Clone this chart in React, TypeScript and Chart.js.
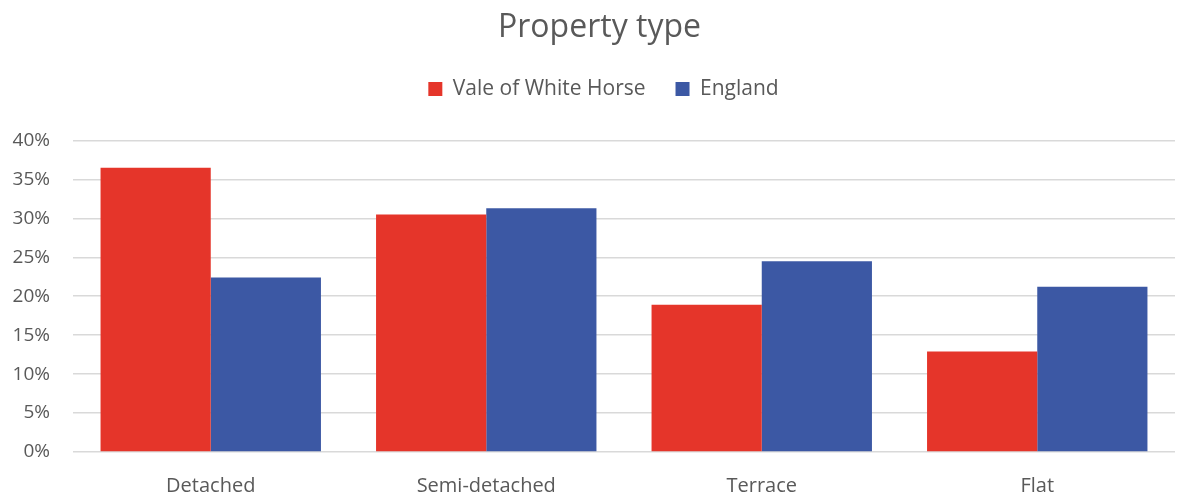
import React, { useEffect, useRef } from "react";
import { Chart, registerables, layouts } from "chart.js";
Chart.register(...registerables);

const categories = ["Detached", "Semi-detached", "Terrace", "Flat"];
const valeValues = [0.365, 0.305, 0.189, 0.129];
const englandValues = [0.224, 0.313, 0.245, 0.212];
const yTicks = [0, 0.05, 0.1, 0.15, 0.2, 0.25, 0.3, 0.35, 0.4];

const FONT = "Open Sans";
const TEXT = "#595959";

const spacerPlugin = {
  id: "legendSpacer",
  beforeInit(chart: any) {
    const box: any = {
      position: "top",
      weight: 0,
      fullSize: true,
      options: { stack: undefined, stackWeight: 1 },
      width: 0,
      height: 0,
      left: 0,
      top: 0,
      right: 0,
      bottom: 0,
      isHorizontal() {
        return true;
      },
      update(maxWidth: number) {
        this.width = maxWidth;
        this.height = 31;
      },
      draw() {},
    };
    layouts.addBox(chart, box);
  },
  afterLayout(chart: any) {
    if (chart.titleBlock) {
      chart.titleBlock.left += 12;
      chart.titleBlock.right += 12;
    }
    if (chart.legend) {
      chart.legend.left += 16;
      chart.legend.right += 16;
    }
  },
};

export default function App() {
  const ref = useRef<HTMLCanvasElement>(null);
  useEffect(() => {
    document.body.style.margin = "0";
    const ctx = ref.current!;
    const chart = new Chart(ctx, {
      type: "bar",
      data: {
        labels: categories,
        datasets: [
          { label: "Vale of White Horse", data: valeValues, backgroundColor: "#E5352A", borderWidth: 0 },
          { label: "England", data: englandValues, backgroundColor: "#3C58A4", borderWidth: 0 },
        ],
      },
      plugins: [spacerPlugin],
      options: {
        animation: false,
        responsive: false,
        layout: { padding: { left: 0, right: 3, top: 0, bottom: 0 } },
        datasets: { bar: { categoryPercentage: 0.8, barPercentage: 1.0 } },
        plugins: {
          title: {
            display: true,
            text: "Property type",
            color: TEXT,
            font: { family: FONT, size: 32, weight: "normal" },
            padding: { top: 9, bottom: 1 },
          },
          legend: {
            display: true,
            labels: {
              color: TEXT,
              font: { family: FONT, size: 21 },
              boxWidth: 14,
              boxHeight: 14,
              padding: 30,
            },
          },
          tooltip: { enabled: false },
        },
        scales: {
          x: {
            grid: { display: false },
            border: { display: false },
            afterFit: (axis: any) => {
              axis.height = 45;
            },
            ticks: { color: TEXT, font: { family: FONT, size: 20 }, padding: 14 },
          },
          y: {
            min: 0,
            max: 0.4,
            afterBuildTicks: (axis: any) => {
              axis.ticks = yTicks.map((v) => ({ value: v }));
            },
            afterFit: (axis: any) => {
              axis.width = 73;
            },
            grid: { color: "#D9D9D9", lineWidth: 1.5, drawTicks: false },
            border: { display: false },
            ticks: {
              color: TEXT,
              font: { family: FONT, size: 19 },
              padding: 23,
              callback: (v: any) => Math.round(Number(v) * 100) + "%",
            },
          },
        },
      },
    });
    return () => chart.destroy();
  }, []);
  return <canvas ref={ref} width={1178} height={497} style={{ display: "block" }} />;
}
